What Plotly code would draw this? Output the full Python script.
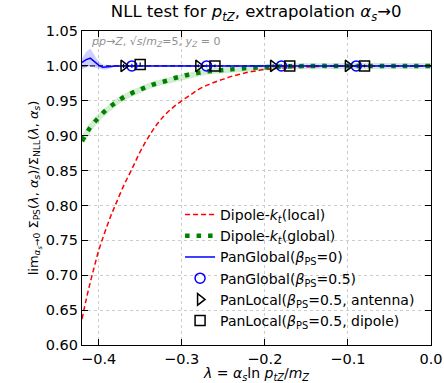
import plotly.graph_objects as go

# Dipole-kt(local)
lam_local = [-0.42, -0.415, -0.41, -0.405, -0.40, -0.395, -0.39, -0.385, -0.38, -0.37, -0.36, -0.35, -0.34, -0.33, -0.32, -0.31, -0.30,
             -0.29, -0.28, -0.27, -0.26, -0.25, -0.24, -0.23, -0.22, -0.21, -0.20, -0.19, -0.18, -0.16, -0.14, -0.12, -0.10,
             -0.08, -0.06, -0.04, -0.02, 0.0]
val_local = [0.637, 0.665, 0.69, 0.713, 0.735, 0.753, 0.77, 0.786, 0.80, 0.828, 0.852, 0.877, 0.898, 0.916, 0.93, 0.941, 0.95,
             0.958, 0.966, 0.972, 0.977, 0.981, 0.985, 0.988, 0.991, 0.993, 0.995, 0.996, 0.997, 0.998, 0.999, 0.9995, 1.0,
             1.0, 1.0, 1.0, 1.0, 1.0]

# Dipole-kt(global)
lam_global = [-0.42, -0.41, -0.40, -0.39, -0.38, -0.37, -0.36, -0.35, -0.34, -0.33, -0.32, -0.31, -0.30, -0.29, -0.28, -0.27,
              -0.26, -0.25, -0.24, -0.22, -0.20, -0.18, -0.16, -0.14, -0.12, -0.10, -0.08, -0.06, -0.04, -0.02, 0.0]
val_global = [0.892, 0.912, 0.926, 0.938, 0.947, 0.955, 0.961, 0.966, 0.971, 0.975, 0.978, 0.982, 0.985, 0.988, 0.990, 0.992,
              0.993, 0.994, 0.995, 0.997, 0.998, 0.999, 0.9995, 1.0, 1.0, 1.0, 1.0, 1.0, 1.0, 1.0, 1.0]

# PanGlobal(beta=0)
lam_pg0 = [-0.42, -0.415, -0.41, -0.405, -0.40, -0.395, -0.39, -0.385, -0.38, -0.37, -0.36, -0.34, -0.30, -0.25, -0.20,
           -0.15, -0.10, -0.05, 0.0]
val_pg0 = [1.005, 1.009, 1.011, 1.006, 1.001, 0.998, 0.998, 0.999, 1.0, 1.0, 1.0, 1.0, 1.0, 1.0, 1.0,
           1.0, 1.0, 1.0, 1.0]
up_pg0 = [1.011, 1.02, 1.025, 1.015, 1.006, 1.002, 1.001, 1.001, 1.001, 1.001, 1.001, 1.001, 1.001, 1.001, 1.001,
          1.001, 1.001, 1.001, 1.001]
lo_pg0 = [0.995, 0.998, 0.999, 0.998, 0.996, 0.995, 0.995, 0.997, 0.999, 0.999, 0.999, 0.999, 0.999, 0.999, 0.999,
          0.999, 0.999, 0.999, 0.999]

# Extrapolated points
lam_pts = [-0.36, -0.27, -0.18, -0.09]
offset = 0.01
val_pg05 = [1.0, 1.0, 1.0, 1.0]
err_pg05 = [0.003, 0.002, 0.002, 0.002]
val_pl_ant = [1.0, 1.0, 1.0, 1.0]
err_pl_ant = [0.003, 0.002, 0.002, 0.002]
val_pl_dip = [1.002, 1.0, 1.0, 1.0]
err_pl_dip = [0.003, 0.002, 0.002, 0.002]

x_ticks = [-0.4, -0.3, -0.2, -0.1, 0.0]
x_ticklabels = ["\u22120.4", "\u22120.3", "\u22120.2", "\u22120.1", "0.0"]
y_ticks = [0.60, 0.65, 0.70, 0.75, 0.80, 0.85, 0.90, 0.95, 1.00, 1.05]

FONT = "DejaVu Sans"

fig = go.Figure()

# reference line at 1
fig.add_trace(go.Scatter(x=[-0.42, 0.0], y=[1.0, 1.0], mode="lines",
                         line=dict(color="black", width=1.2, dash="5px,3px"),
                         showlegend=False, hoverinfo="skip"))

# PanGlobal band
fig.add_trace(go.Scatter(x=lam_pg0 + lam_pg0[::-1], y=up_pg0 + lo_pg0[::-1], fill="toself",
                         fillcolor="rgba(100,100,255,0.3)", line=dict(width=0), mode="lines",
                         showlegend=False, hoverinfo="skip"))

# light band under green
fig.add_trace(go.Scatter(x=lam_global, y=val_global, mode="lines",
                         line=dict(color="rgba(0,160,0,0.18)", width=6),
                         showlegend=False, hoverinfo="skip"))

fig.add_trace(go.Scatter(x=lam_local, y=val_local, mode="lines", name="Dipole-<i>k<sub>t</sub></i>(local)",
                         line=dict(color="red", width=1.5, dash="5px,3px", shape="spline")))
fig.add_trace(go.Scatter(x=lam_global, y=val_global, mode="lines", name="Dipole-<i>k<sub>t</sub></i>(global)",
                         line=dict(color="green", width=4.5, dash="4.5px,7px", shape="spline")))
fig.add_trace(go.Scatter(x=lam_pg0, y=val_pg0, mode="lines", name="PanGlobal(<i>β</i><sub>PS</sub>=0)",
                         line=dict(color="blue", width=1.5)))

fig.add_trace(go.Scatter(x=lam_pts, y=val_pg05, mode="markers", name="PanGlobal(<i>β</i><sub>PS</sub>=0.5)",
                         marker=dict(symbol="circle-open", size=10, color="blue", line=dict(width=1.5)),
                         error_y=dict(type="data", array=err_pg05, color="blue", thickness=1.2, width=0)))
fig.add_trace(go.Scatter(x=[v - offset for v in lam_pts], y=val_pl_ant, mode="markers",
                         name="PanLocal(<i>β</i><sub>PS</sub>=0.5, antenna)",
                         marker=dict(symbol="triangle-right-open", size=10, color="black", line=dict(width=1.5)),
                         error_y=dict(type="data", array=err_pl_ant, color="black", thickness=1.2, width=0)))
fig.add_trace(go.Scatter(x=[v + offset for v in lam_pts], y=val_pl_dip, mode="markers",
                         name="PanLocal(<i>β</i><sub>PS</sub>=0.5, dipole)",
                         marker=dict(symbol="square-open", size=10, color="black", line=dict(width=1.5)),
                         error_y=dict(type="data", array=err_pl_dip, color="black", thickness=1.2, width=0)))

fig.add_annotation(x=0.02, y=0.995, xref="paper", yref="paper", xanchor="left", yanchor="top",
                   text="<i>pp</i>→<i>Z</i>, √<i>s</i>/<i>m<sub>Z</sub></i>=5, <i>y<sub>Z</sub></i> = 0",
                   showarrow=False, font=dict(family=FONT, size=11, color="#909090"))

axis_common = dict(showline=True, linecolor="black", linewidth=1.2, mirror="allticks",
                   ticks="inside", ticklen=6, tickwidth=1.2, tickcolor="black",
                   showgrid=True, gridcolor="#cccccc", griddash="dot", gridwidth=1,
                   zeroline=False, automargin=False,
                   tickfont=dict(family=FONT, size=14.5, color="black"))

fig.update_xaxes(range=[-0.42, 0.0], tickvals=x_ticks, ticktext=x_ticklabels,
                 title=dict(text="<i>λ</i> = <i>α<sub>s</sub></i>ln <i>p<sub>tZ</sub></i>/<i>m<sub>Z</sub></i>",
                            font=dict(family=FONT, size=14, color="black"), standoff=0),
                 **axis_common)
fig.update_yaxes(range=[0.60, 1.05], tickvals=y_ticks, tickformat=".2f",
                 title=dict(text="lim<sub><i>α<sub>s</sub></i>→0</sub> Σ<sub>PS</sub>(<i>λ</i>, <i>α<sub>s</sub></i>)/Σ<sub>NLL</sub>(<i>λ</i>, <i>α<sub>s</sub></i>)",
                            font=dict(family=FONT, size=13, color="black"), standoff=4),
                 **axis_common)

fig.update_layout(
    template="none",
    width=444, height=383,
    margin=dict(l=82, r=13, t=31, b=38, autoexpand=False),
    plot_bgcolor="white", paper_bgcolor="white",
    title=dict(text="NLL test for <i>p<sub>tZ</sub></i>, extrapolation <i>α<sub>s</sub></i>→0",
               x=0.577, xanchor="center", y=0.985, yanchor="top", automargin=False,
               font=dict(family=FONT, size=16.5, color="black")),
    legend=dict(x=0.281, y=0.465, xanchor="left", yanchor="top", bgcolor="rgba(255,255,255,0)",
                font=dict(family=FONT, size=14, color="black"), itemwidth=30, tracegroupgap=0),
    showlegend=True,
)

fig.write_html("out.html", config={"displayModeBar": False},
               post_script="document.body.style.margin='0px';")
